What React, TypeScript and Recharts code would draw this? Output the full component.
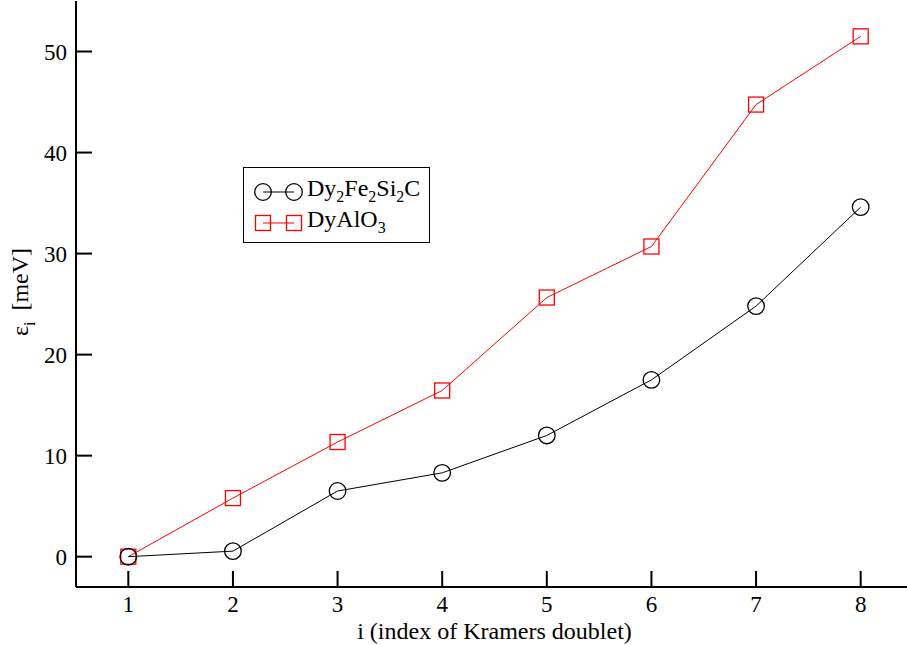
import React from "react";
import { Line, LineChart, XAxis, YAxis } from "recharts";

const doublets = [1, 2, 3, 4, 5, 6, 7, 8];
const dyFeSiC = [0, 0.55, 6.5, 8.3, 12.0, 17.5, 24.8, 34.6];
const dyAlO3 = [0, 5.8, 11.35, 16.45, 25.65, 30.7, 44.75, 51.5];

const xTicks = [1, 2, 3, 4, 5, 6, 7, 8];
const yMajorTicks = [0, 10, 20, 30, 40, 50];
const yMinorTicks = [5, 15, 25, 35, 45];

const data = doublets.map((i, k) => ({ i, dfsc: dyFeSiC[k], dao: dyAlO3[k] }));

const FONT = "Liberation Serif, Times New Roman, DejaVu Serif, serif";
const tickStyle = { fontFamily: FONT, fontSize: 23, fill: "#000" };

const NoTick = () => <g />;

const SquareDot = (props: any) => {
  const { cx, cy } = props;
  if (cx == null || cy == null) return null;
  return <rect x={cx - 7.5} y={cy - 7.5} width={15} height={15} fill="none" stroke="#ff0000" strokeWidth={1.3} />;
};

const CircleDot = (props: any) => {
  const { cx, cy } = props;
  if (cx == null || cy == null) return null;
  return <circle cx={cx} cy={cy} r={8.3} fill="none" stroke="#000" strokeWidth={1.3} />;
};

const subStyle = { fontSize: 16, verticalAlign: -6 };

const LegendBox = () => (
  <div
    style={{
      position: "absolute",
      left: 243,
      top: 167,
      width: 187,
      height: 76,
      border: "1.5px solid #000",
      background: "#fff",
      fontFamily: FONT,
      fontSize: 24,
      boxSizing: "border-box",
    }}
  >
    <svg width={60} height={73} style={{ position: "absolute", left: 0, top: 0 }}>
      <line x1={19} y1={24} x2={50} y2={24} stroke="#000" strokeWidth={1} />
      <circle cx={19} cy={24} r={8.3} fill="none" stroke="#000" strokeWidth={1.3} />
      <circle cx={50} cy={24} r={8.3} fill="none" stroke="#000" strokeWidth={1.3} />
      <line x1={19} y1={55} x2={50} y2={55} stroke="#ff0000" strokeWidth={1} />
      <rect x={11.5} y={47.5} width={15} height={15} fill="none" stroke="#ff0000" strokeWidth={1.3} />
      <rect x={42.5} y={47.5} width={15} height={15} fill="none" stroke="#ff0000" strokeWidth={1.3} />
    </svg>
    <div style={{ position: "absolute", left: 63, top: 8, lineHeight: "24px", whiteSpace: "nowrap" }}>
      Dy<sub style={subStyle}>2</sub>Fe<sub style={subStyle}>2</sub>Si<sub style={subStyle}>2</sub>C
    </div>
    <div style={{ position: "absolute", left: 63, top: 39, lineHeight: "24px", whiteSpace: "nowrap" }}>
      DyAlO<sub style={subStyle}>3</sub>
    </div>
  </div>
);

const YLabel = () => (
  <text transform="translate(28, 292) rotate(-90)" textAnchor="middle" fontFamily={FONT} fontSize={24} fill="#000">
    ε<tspan fontSize={16} dy={7}>i</tspan>
    <tspan dy={-7} dx={11}>[meV]</tspan>
  </text>
);

export default function App() {
  return (
    <div style={{ position: "absolute", left: 0, top: 0, width: 907, height: 645, overflow: "hidden", background: "#fff", fontFamily: FONT }}>
      <LineChart width={920} height={645} data={data} margin={{ top: 1, right: 7, bottom: 0, left: 0 }}>
        <XAxis
          xAxisId="b"
          dataKey="i"
          type="number"
          domain={[0.5, 8.5]}
          ticks={xTicks}
          tickSize={-16}
          tickMargin={25}
          tick={tickStyle}
          stroke="#000"
          strokeWidth={2}
          height={58}
          label={{ value: "i (index of Kramers doublet)", position: "insideBottom", offset: 6, fontFamily: FONT, fontSize: 24, fill: "#000" }}
        />
        <XAxis
          xAxisId="t"
          dataKey="i"
          type="number"
          orientation="top"
          domain={[0.5, 8.5]}
          ticks={xTicks}
          tickSize={-16}
          tick={NoTick}
          stroke="#000"
          strokeWidth={2}
          height={0}
        />
        <YAxis
          yAxisId="l"
          type="number"
          domain={[-3, 55]}
          ticks={yMajorTicks}
          tickSize={-16}
          tickMargin={25}
          tick={tickStyle}
          stroke="#000"
          strokeWidth={2}
          width={76}
          label={{ content: () => <YLabel /> }}
        />
        <YAxis
          yAxisId="lm"
          type="number"
          domain={[-3, 55]}
          ticks={yMinorTicks}
          tickSize={-8}
          tick={NoTick}
          axisLine={false}
          stroke="#000"
          width={0}
        />
        <YAxis
          yAxisId="r"
          type="number"
          orientation="right"
          domain={[-3, 55]}
          ticks={yMajorTicks}
          tickSize={-16}
          tick={NoTick}
          stroke="#000"
          strokeWidth={2}
          width={0}
        />
        <YAxis
          yAxisId="rm"
          type="number"
          orientation="right"
          domain={[-3, 55]}
          ticks={yMinorTicks}
          tickSize={-8}
          tick={NoTick}
          axisLine={false}
          stroke="#000"
          width={0}
        />
        <Line xAxisId="b" yAxisId="l" dataKey="dao" stroke="#ff0000" strokeWidth={1} dot={<SquareDot />} isAnimationActive={false} />
        <Line xAxisId="b" yAxisId="l" dataKey="dfsc" stroke="#000" strokeWidth={1} dot={<CircleDot />} isAnimationActive={false} />
      </LineChart>
      <LegendBox />
    </div>
  );
}
